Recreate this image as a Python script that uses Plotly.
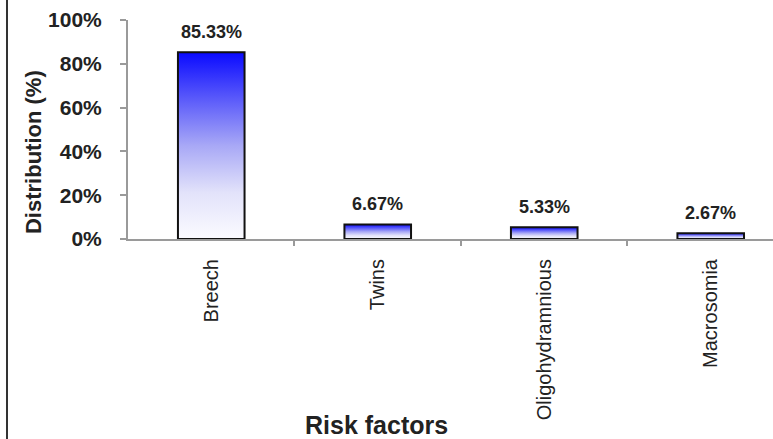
import plotly.graph_objects as go

# Risk factor distribution (% of cases)
categories = ["Breech", "Twins", "Oligohydramnious", "Macrosomia"]
values = [85.33, 6.67, 5.33, 2.67]
y_ticks = [0, 20, 40, 60, 80, 100]

BAR_WIDTH = 0.4
FONT = "Liberation Sans, Arial, sans-serif"
AXIS_GREY = "#9a9a9a"
TEXT = "#222222"

# white at the base of each bar, saturated blue at its top
bar_scale = [
    [0.0, "#fbfbff"],
    [0.25, "#e2e2fa"],
    [0.5, "#a8a8f6"],
    [0.75, "#5a5afa"],
    [1.0, "#0a0aff"],
]

fig = go.Figure()

for i, (name, v) in enumerate(zip(categories, values)):
    left, right = i - BAR_WIDTH / 2, i + BAR_WIDTH / 2
    fig.add_trace(go.Scatter(
        x=[left, left, right, right, left],
        y=[0, v, v, 0, 0],
        mode="lines",
        fill="toself",
        fillgradient=dict(type="vertical", colorscale=bar_scale),
        line=dict(color="#111111", width=2),
        name=name,
        hoverinfo="skip",
        showlegend=False,
    ))
    fig.add_annotation(
        x=i, y=v, xref="x", yref="y",
        text=f"{v:.2f}%", showarrow=False,
        yanchor="middle", yshift=20,
        font=dict(family=FONT, size=18, color=TEXT, weight="bold"),
    )

fig.update_xaxes(
    range=[-0.5, 3.374],
    tickmode="array",
    tickvals=list(range(len(categories))),
    ticktext=categories,
    tickangle=-90,
    ticks="",
    ticklabelstandoff=10,
    tickfont=dict(family=FONT, size=20, color=TEXT),
    minor=dict(tickmode="array", tickvals=[0.5, 1.5, 2.5], ticks="outside",
               ticklen=5, tickwidth=1.5, tickcolor=AXIS_GREY),
    showline=True, linecolor=AXIS_GREY, linewidth=2,
    showgrid=False, zeroline=False, fixedrange=True,
)

fig.update_yaxes(
    range=[0, 100],
    tickmode="array",
    tickvals=y_ticks,
    ticktext=[f"{t}%" for t in y_ticks],
    ticks="outside", ticklen=6, tickwidth=1.5, tickcolor=AXIS_GREY,
    ticklabelstandoff=14,
    tickfont=dict(family=FONT, size=21, color=TEXT, weight="bold"),
    showline=True, linecolor=AXIS_GREY, linewidth=2,
    showgrid=False, zeroline=False, fixedrange=True,
)

# axis titles
fig.add_annotation(
    x=-0.1473, y=0.397, xref="paper", yref="paper",
    text="Distribution (%)", textangle=-90, showarrow=False,
    xanchor="center", yanchor="middle",
    font=dict(family=FONT, size=22, color=TEXT, weight="bold"),
)
fig.add_annotation(
    x=0.386, y=-0.849, xref="paper", yref="paper",
    text="Risk factors", showarrow=False,
    xanchor="center", yanchor="middle",
    font=dict(family=FONT, size=25, color=TEXT, weight="bold"),
)

# frame line down the left side
fig.add_shape(type="line", xref="paper", yref="paper",
              x0=-0.1876, x1=-0.1876, y0=-1.0, y1=1.1,
              line=dict(color="#333333", width=2))

fig.update_layout(
    width=773, height=439,
    margin=dict(l=128, r=0, t=20, b=200),
    paper_bgcolor="white", plot_bgcolor="white",
    showlegend=False,
)

fig.write_html("out.html")
